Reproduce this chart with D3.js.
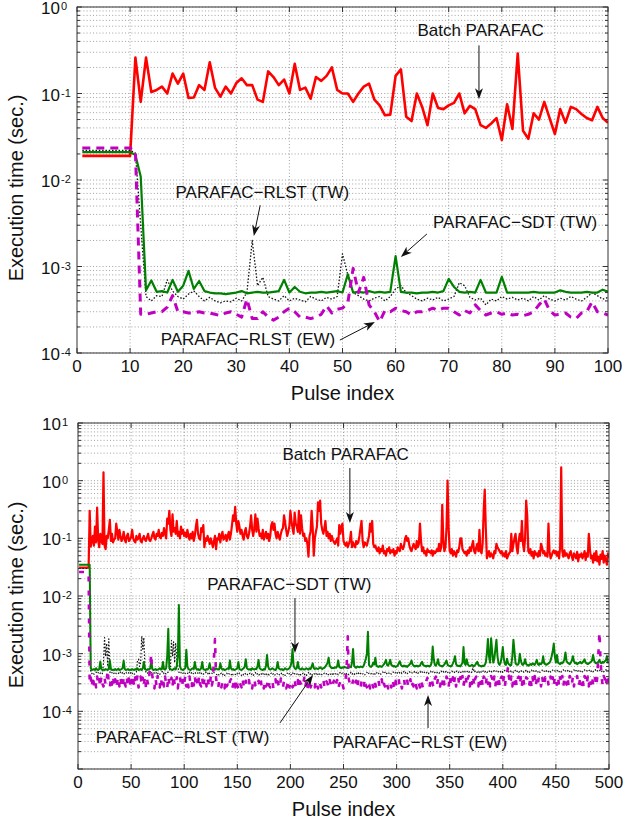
<!DOCTYPE html>
<html>
<head>
<meta charset="utf-8">
<script src="https://cdn.jsdelivr.net/npm/d3@7"></script>
<style>
  body { margin: 0; background: #fff; }
  text { font-family: "Liberation Sans", Arial, sans-serif; fill: #111; }
</style>
</head>
<body>
<svg id="fig" width="625" height="824"></svg>
<script>
// ---- data: pulse index starts at 1 ----
// top panel, 100 pulses, seconds
const topBatch = [
  0.019,0.019,0.019,0.019,0.019,0.019,0.019,0.019,0.019,0.019,
  0.26,0.080,0.26,0.104,0.11,0.12,0.10,0.17,0.13,0.17,
  0.089,0.09,0.125,0.11,0.23,0.116,0.092,0.12,0.10,0.132,
  0.15,0.125,0.125,0.085,0.08,0.18,0.155,0.125,0.145,0.10,
  0.22,0.11,0.117,0.087,0.155,0.14,0.16,0.20,0.11,0.10,
  0.10,0.08,0.10,0.12,0.13,0.085,0.073,0.056,0.057,0.16,
  0.19,0.054,0.048,0.10,0.07,0.043,0.10,0.068,0.066,0.073,
  0.078,0.10,0.059,0.072,0.066,0.043,0.040,0.045,0.052,0.029,
  0.075,0.039,0.29,0.037,0.030,0.059,0.050,0.08,0.052,0.034,
  0.066,0.046,0.07,0.066,0.058,0.052,0.049,0.07,0.052,0.046
];
const topSdtTw = [
  0.021,0.021,0.021,0.021,0.021,0.021,0.021,0.021,0.021,0.021,
  0.0195,0.011,5.3e-4,6.9e-4,5.1e-4,5.2e-4,5.0e-4,7.0e-4,5.1e-4,6.0e-4,
  8.9e-4,5.5e-4,6.8e-4,5.2e-4,5.0e-4,4.9e-4,4.9e-4,4.8e-4,4.9e-4,5.0e-4,
  5.2e-4,4.9e-4,5.0e-4,5.1e-4,5.0e-4,5.0e-4,5.1e-4,5.2e-4,7.0e-4,5.0e-4,
  5.8e-4,5.1e-4,4.9e-4,5.0e-4,5.0e-4,5.1e-4,5.0e-4,5.1e-4,5.2e-4,5.0e-4,
  8.1e-4,5.0e-4,5.1e-4,5.0e-4,5.2e-4,5.0e-4,5.1e-4,5.0e-4,5.1e-4,1.32e-3,
  5.1e-4,5.0e-4,5.0e-4,4.9e-4,5.0e-4,5.0e-4,5.1e-4,5.0e-4,5.2e-4,7.2e-4,
  5.8e-4,5.1e-4,5.0e-4,5.1e-4,5.0e-4,7.0e-4,5.0e-4,5.0e-4,5.0e-4,7.6e-4,
  5.0e-4,5.0e-4,5.0e-4,5.0e-4,5.0e-4,5.1e-4,5.0e-4,5.0e-4,5.0e-4,5.0e-4,
  5.3e-4,5.1e-4,5.0e-4,5.0e-4,5.0e-4,5.1e-4,5.0e-4,5.0e-4,5.4e-4,5.1e-4
];
const topRlstTw = [
  0.022,0.022,0.022,0.022,0.022,0.022,0.022,0.022,0.022,0.022,
  0.0205,0.003,4.5e-4,4.0e-4,4.6e-4,4.5e-4,7.0e-4,5.2e-4,4.5e-4,4.2e-4,
  4.8e-4,5.2e-4,4.5e-4,4.0e-4,4.4e-4,4.0e-4,3.8e-4,4.0e-4,3.9e-4,4.3e-4,
  4.0e-4,5.0e-4,2.0e-3,6.0e-4,7.5e-4,4.5e-4,4.2e-4,4.0e-4,4.6e-4,4.0e-4,
  4.3e-4,4.1e-4,3.9e-4,4.5e-4,4.2e-4,4.0e-4,4.4e-4,4.2e-4,4.5e-4,1.4e-3,
  8.0e-4,5.0e-4,4.6e-4,4.2e-4,4.0e-4,4.3e-4,4.5e-4,4.0e-4,4.5e-4,5.5e-4,
  6.0e-4,5.0e-4,4.6e-4,4.2e-4,4.0e-4,4.3e-4,4.1e-4,4.4e-4,4.0e-4,4.2e-4,
  4.5e-4,6.5e-4,6.0e-4,4.4e-4,4.1e-4,4.3e-4,3.6e-4,4.2e-4,4.0e-4,4.5e-4,
  4.2e-4,4.4e-4,4.1e-4,4.3e-4,4.0e-4,4.5e-4,4.1e-4,4.6e-4,4.2e-4,4.0e-4,
  4.3e-4,4.1e-4,4.5e-4,4.2e-4,4.0e-4,4.4e-4,5.0e-4,4.6e-4,4.2e-4,4.4e-4
];
const topRlstEw = [
  0.0235,0.0235,0.0235,0.0235,0.0235,0.0235,0.0235,0.0235,0.0235,0.0235,
  0.021,2.8e-4,2.8e-4,2.9e-4,3.0e-4,3.0e-4,3.4e-4,4.6e-4,3.0e-4,3.0e-4,
  2.9e-4,2.9e-4,3.0e-4,2.9e-4,2.9e-4,2.8e-4,2.7e-4,2.9e-4,3.0e-4,2.8e-4,
  2.6e-4,4.2e-4,2.5e-4,2.5e-4,3.0e-4,2.6e-4,2.4e-4,2.6e-4,3.0e-4,3.3e-4,
  3.0e-4,2.6e-4,2.6e-4,2.5e-4,2.6e-4,2.8e-4,3.5e-4,2.9e-4,3.2e-4,3.3e-4,
  3.8e-4,9.5e-4,5.0e-4,7.5e-4,3.6e-4,3.0e-4,2.3e-4,3.1e-4,3.0e-4,3.3e-4,
  3.1e-4,3.0e-4,2.75e-4,3.0e-4,3.0e-4,3.1e-4,3.3e-4,3.1e-4,3.3e-4,3.3e-4,
  3.0e-4,2.75e-4,3.1e-4,2.9e-4,3.6e-4,3.1e-4,2.75e-4,2.9e-4,3.0e-4,2.8e-4,
  2.9e-4,2.75e-4,2.8e-4,2.7e-4,2.8e-4,3.0e-4,3.6e-4,4.2e-4,3.1e-4,2.75e-4,
  2.8e-4,2.9e-4,2.6e-4,2.5e-4,2.9e-4,3.0e-4,3.9e-4,3.0e-4,2.9e-4,2.75e-4
];

// bottom panel, 500 pulses; batch in ms, the others in microseconds
const longBatchMs = [
  31,31,31,31,31,31,31,31,31,31,300,72,90,110,75,160,85,340,95,70,
  120,90,80,1400,75,65,110,100,140,210,90,120,85,95,100,180,130,95,140,110,
  90,100,130,95,85,110,120,90,95,105,140,100,90,85,110,95,100,120,90,85,
  100,110,95,90,105,120,95,90,100,115,130,100,95,120,110,140,105,100,125,110,
  150,120,100,220,180,300,140,110,260,130,150,120,200,110,130,100,160,120,140,110,
  125,105,140,110,95,120,100,130,90,110,160,210,120,100,95,150,130,170,70,100,
  90,110,95,80,100,85,70,90,110,65,100,95,120,85,110,130,95,100,115,90,
  110,130,95,120,170,250,200,350,180,130,200,160,120,140,110,95,130,150,110,100,
  120,160,250,140,110,150,260,130,220,150,110,120,100,140,95,110,130,100,120,90,
  110,170,190,140,180,120,100,130,110,95,120,140,150,250,190,140,110,130,160,300,
  200,150,120,280,180,160,130,300,120,250,150,110,120,90,100,80,48,110,130,300,
  150,50,100,130,160,420,300,450,180,140,120,150,200,110,130,100,120,90,110,95,
  85,80,90,100,75,170,120,160,180,90,80,75,85,70,80,90,130,70,85,75,
  70,90,80,85,110,150,200,90,70,85,80,75,90,110,180,130,200,80,70,75,
  65,60,70,55,65,60,75,55,60,50,65,60,70,55,62,58,65,50,60,55,
  70,65,60,80,70,65,75,100,110,90,100,75,65,60,70,80,70,65,90,70,
  80,180,90,60,70,55,60,50,65,58,60,55,62,50,60,55,58,65,60,80,
  60,70,380,90,60,70,150,1000,150,60,55,65,50,60,55,48,62,58,70,100,
  100,65,60,55,58,50,62,55,70,60,75,90,60,55,70,80,60,140,60,55,
  80,300,700,150,45,52,60,48,55,50,45,60,55,80,70,65,60,55,60,50,
  55,48,60,45,50,55,58,120,60,80,100,120,70,55,90,120,90,200,80,60,
  100,450,250,60,55,65,50,58,45,60,52,55,48,60,50,80,70,55,60,50,
  55,48,180,60,45,50,58,62,55,60,50,58,45,70,1700,60,48,62,50,55,
  50,45,55,60,48,42,55,50,45,58,40,52,48,55,45,50,60,42,55,48,
  120,65,45,50,38,55,42,60,40,48,35,52,44,60,38,50,42,35,55,45
];
const longSdtTwUs = [
  35000,35000,35000,35000,35000,35000,35000,35000,35000,35000,35000,560,520,530,540,520,560,530,520,540,
  730,540,520,530,520,540,530,520,560,760,540,520,530,520,540,520,530,550,520,530,
  540,560,760,540,520,530,540,520,530,520,540,530,520,540,530,560,520,530,540,520,
  560,720,540,530,520,540,530,560,760,540,520,530,540,520,530,540,560,530,540,720,
  540,530,560,900,2700,560,540,530,520,540,560,530,620,900,7000,600,540,530,520,540,
  560,1170,600,540,530,520,540,560,540,720,560,530,540,520,530,560,720,540,530,520,
  540,530,560,680,540,530,520,540,530,560,540,530,540,680,560,530,540,520,530,540,
  560,540,760,560,530,540,520,530,540,560,720,540,530,520,540,560,600,800,560,540,
  530,540,520,560,540,530,550,540,600,780,560,540,530,520,540,530,620,950,600,540,
  530,540,560,540,530,520,560,720,560,540,530,540,520,530,560,540,530,540,560,600,
  700,1200,620,560,540,560,720,560,540,530,560,540,530,540,560,540,530,560,540,600,
  680,560,540,560,550,540,560,580,560,540,560,570,600,640,700,850,620,580,560,570,
  560,580,570,600,760,590,570,560,580,570,590,580,570,560,580,600,580,700,1200,620,
  580,570,600,590,580,600,590,580,620,700,820,1000,2400,640,600,590,620,700,650,850,
  620,600,590,610,600,590,620,650,700,780,640,620,680,780,640,620,600,610,590,600,
  620,680,740,640,610,600,620,600,610,590,620,640,680,760,650,620,600,610,620,600,
  610,620,680,720,640,620,610,600,620,610,600,620,700,1330,800,640,620,680,800,640,
  620,610,600,620,650,700,760,640,620,610,600,620,680,760,900,660,620,610,620,600,
  640,700,1300,680,640,800,660,620,610,620,640,620,610,640,680,720,640,620,610,600,
  620,610,640,700,1000,1800,900,700,1850,1100,700,800,1200,1750,900,680,640,700,900,1300,
  800,660,640,820,680,650,620,640,900,1750,1100,680,650,640,680,1000,760,660,640,680,
  800,660,640,620,640,660,640,680,660,640,700,780,660,640,680,660,700,900,680,660,
  640,660,680,700,760,900,1100,1500,900,700,950,700,680,660,700,680,720,800,1050,740,
  700,680,660,700,760,900,740,680,700,660,680,700,720,680,700,740,800,700,680,660,
  680,700,720,760,950,760,700,680,700,720,780,700,680,720,700,740,760,900,700,720
];
const longRlstTwUs = [
  30000,30000,30000,30000,30000,30000,30000,30000,30000,30000,30000,480,450,470,440,460,480,450,470,440,
  460,480,450,700,1900,900,1500,600,1800,480,450,470,440,460,480,450,470,460,440,480,
  450,470,440,460,480,450,470,460,440,480,450,470,440,460,480,750,800,600,700,2000,
  1200,1900,600,480,450,470,440,460,480,450,470,460,440,480,450,470,440,460,480,500,
  450,470,440,460,480,500,600,1700,900,1600,700,1500,800,600,480,450,470,440,460,480,
  450,470,460,440,480,450,470,440,460,480,450,470,460,440,480,450,470,440,460,480,
  460,440,480,450,470,460,440,470,450,440,430,450,420,440,460,430,450,420,440,460,
  430,450,440,420,460,430,450,440,420,450,430,460,440,420,450,430,460,440,420,450,
  440,460,430,450,420,440,470,430,450,420,440,460,430,455,420,440,465,430,450,425,
  445,460,430,450,420,440,460,435,450,420,440,465,430,450,420,445,460,430,450,420,
  440,470,430,450,425,440,460,430,455,420,440,460,430,450,420,440,470,430,450,420,
  445,460,430,455,420,440,465,430,450,425,440,460,435,450,420,440,460,430,455,420,
  450,470,440,460,430,455,470,440,460,435,450,470,445,460,430,450,475,440,460,435,
  455,470,440,465,430,450,470,445,460,430,455,475,440,460,435,450,470,440,465,430,
  460,480,450,470,440,460,480,450,475,440,460,480,455,470,440,465,480,450,470,445,
  470,490,460,480,450,470,495,460,480,450,470,490,465,480,450,470,490,460,485,455,
  475,495,460,485,455,470,490,465,480,450,475,495,460,485,455,470,490,465,480,455,
  480,500,470,490,460,480,500,470,490,460,480,500,475,490,460,485,500,470,490,465,
  485,505,470,495,465,480,505,475,490,465,485,600,475,495,465,480,505,470,495,465,
  490,510,480,500,470,490,510,480,500,470,490,510,485,500,470,490,510,480,505,475,
  495,515,480,505,475,490,515,485,500,470,495,515,480,505,475,490,515,485,500,470,
  495,515,480,505,475,495,520,485,505,475,495,515,480,505,475,495,520,485,500,475,
  500,520,485,510,480,500,520,490,505,480,500,520,485,510,480,500,525,490,505,480,
  505,525,490,510,480,500,525,490,510,480,505,525,490,510,485,505,525,495,510,485,
  505,525,490,515,485,505,530,495,510,485,505,525,490,515,485,505,530,495,510,490
];
const longRlstEwUs = [
  26000,26000,26000,26000,26000,26000,26000,26000,26000,26000,300,380,260,420,280,350,260,400,290,360,
  260,410,300,270,390,280,350,530,300,260,380,290,420,270,360,250,330,400,270,380,
  290,250,410,300,270,380,260,400,290,430,270,350,260,390,300,420,260,330,400,280,
  380,270,410,260,360,290,400,600,1000,420,280,250,380,270,410,300,260,390,280,360,
  270,400,290,250,410,300,270,380,260,420,290,270,390,250,360,410,280,260,380,300,
  410,270,360,260,400,290,250,380,280,410,270,350,260,420,290,270,380,250,370,400,
  270,380,300,260,400,280,350,800,1800,380,270,250,350,290,260,330,280,250,360,270,
  290,250,330,360,250,280,340,260,370,280,250,330,290,260,360,280,250,340,270,300,
  350,260,290,250,330,370,280,260,250,340,280,360,260,300,250,340,270,290,370,280,
  260,300,340,250,290,360,260,330,280,250,370,290,260,340,300,250,280,350,260,300,
  340,260,290,370,260,280,350,250,330,290,260,300,380,260,340,250,290,350,260,300,
  330,280,260,350,290,250,340,300,260,290,360,270,250,330,300,260,350,290,250,310,
  340,260,300,350,250,290,330,270,300,250,300,350,600,2000,360,300,260,290,340,260,
  290,340,250,350,300,260,330,290,250,370,290,260,340,300,250,330,300,260,350,290,
  250,300,340,260,290,360,250,300,270,340,290,250,330,300,260,360,300,250,340,270,
  280,360,260,300,250,340,370,260,300,340,260,290,360,250,300,270,340,290,250,330,
  300,260,350,290,250,270,300,340,380,280,260,360,390,290,260,370,400,280,380,300,
  270,380,300,410,290,270,400,360,260,420,300,270,390,290,410,270,370,400,280,390,
  300,410,270,390,430,280,370,410,270,390,300,420,270,370,400,290,270,390,300,410,
  270,400,370,280,420,300,390,270,410,370,290,400,270,390,300,410,270,370,400,290,
  390,270,410,450,600,370,290,400,270,390,300,410,270,370,400,290,390,270,410,300,
  270,390,370,410,290,400,270,390,300,410,270,370,290,400,390,270,410,300,270,390,
  370,410,290,270,400,300,390,270,410,370,290,400,270,390,300,410,270,370,400,290,
  390,270,410,300,290,400,270,390,370,410,270,300,400,290,390,270,410,370,290,400,
  270,390,300,410,290,400,370,270,400,1000,2400,800,390,290,410,370,270,390,300,400
];

// axis ticks
const topXTicks = [0, 10, 20, 30, 40, 50, 60, 70, 80, 90, 100];
const longXTicks = [0, 50, 100, 150, 200, 250, 300, 350, 400, 450, 500];
const topExponents = [-4, -3, -2, -1, 0];
const longExponents = [-4, -3, -2, -1, 0, 1];

// annotations in data coordinates: label point, arrow tail, arrow tip
const topNotes = [
  {text: 'Batch PARAFAC', at: [76, 0.46], from: [75.7, 0.36], to: [75.7, 0.086]},
  {text: 'PARAFAC\u2212RLST (TW)', at: [34.9, 6.2e-3], from: [34.5, 5.1e-3], to: [33.3, 2.25e-3]},
  {text: 'PARAFAC\u2212SDT (TW)', at: [82.5, 2.8e-3], from: [65.9, 2.38e-3], to: [61.0, 1.29e-3]},
  {text: 'PARAFAC\u2212RLST (EW)', at: [32.2, 1.24e-4], from: [49.5, 1.41e-4], to: [56.1, 2.28e-4]}
];
const longNotes = [
  {text: 'Batch PARAFAC', at: [252, 2.28], from: [256, 1.66], to: [256, 0.184]},
  {text: 'PARAFAC\u2212SDT (TW)', at: [199, 0.0127], from: [204.3, 9.2e-3], to: [204.3, 1.03e-3]},
  {text: 'PARAFAC\u2212RLST (TW)', at: [98.4, 2.83e-5], from: [190.2, 6.3e-5], to: [221.3, 4.27e-4]},
  {text: 'PARAFAC\u2212RLST (EW)', at: [322, 2.31e-5], from: [329.6, 5.14e-5], to: [329.6, 1.92e-4]}
];

const svg = d3.select('#fig');

function drawArrow(g, x1, y1, x2, y2) {
  const ang = Math.atan2(y2 - y1, x2 - x1);
  const len = 11, half = 4, notch = 3;
  const bx = x2 - len * Math.cos(ang), by = y2 - len * Math.sin(ang);
  const nx = x2 - (len - notch) * Math.cos(ang), ny = y2 - (len - notch) * Math.sin(ang);
  const px = -Math.sin(ang) * half, py = Math.cos(ang) * half;
  g.append('line').attr('x1', x1).attr('y1', y1).attr('x2', nx).attr('y2', ny)
    .attr('stroke', '#111').attr('stroke-width', 1);
  g.append('path')
    .attr('d', `M${x2},${y2}L${bx + px},${by + py}L${nx},${ny}L${bx - px},${by - py}Z`)
    .attr('fill', '#111');
}

function drawPanel(p) {
  const x = d3.scaleLinear().domain(p.xDomain).range(p.xRange);
  const y = d3.scaleLog().domain(p.yDomain).range(p.yRange);
  const [x0, x1] = p.xRange, [yb, yt] = p.yRange;
  const g = svg.append('g');
  const lo = Math.round(Math.log10(p.yDomain[0])), hi = Math.round(Math.log10(p.yDomain[1]));

  const majors = d3.range(lo, hi + 1).map(e => Math.pow(10, e));
  const minors = [];
  for (let e = lo; e < hi; e++) for (let k = 2; k < 10; k++) minors.push(k * Math.pow(10, e));

  // dotted grid
  const grid = g.append('g').attr('stroke', '#8a8a8a').attr('stroke-width', 0.8)
    .attr('stroke-dasharray', '1,2.2');
  grid.selectAll('.hy').data(majors.concat(minors)).join('line')
    .attr('x1', x0).attr('x2', x1).attr('y1', d => y(d)).attr('y2', d => y(d));
  grid.selectAll('.vx').data(p.xTicks.slice(1, -1)).join('line')
    .attr('y1', yb).attr('y2', yt).attr('x1', d => x(d)).attr('x2', d => x(d));

  // series
  const clipId = 'clip' + p.id;
  g.append('clipPath').attr('id', clipId).append('rect')
    .attr('x', x0).attr('y', yt).attr('width', x1 - x0).attr('height', yb - yt);
  const plot = g.append('g').attr('clip-path', `url(#${clipId})`);
  p.series.forEach(s => {
    const line = d3.line().x((d, i) => x(i + 1)).y(d => y(d * s.unit));
    plot.append('path').datum(s.values).attr('d', line)
      .attr('fill', 'none').attr('stroke', s.color).attr('stroke-width', s.width)
      .attr('stroke-dasharray', s.dash || null)
      .attr('stroke-linejoin', 'round');
  });

  // box and ticks
  g.append('rect').attr('x', x0).attr('y', yt).attr('width', x1 - x0).attr('height', yb - yt)
    .attr('fill', 'none').attr('stroke', '#333').attr('stroke-width', 1);
  const ticks = g.append('g').attr('stroke', '#333').attr('stroke-width', 1);
  p.xTicks.forEach(t => {
    ticks.append('line').attr('x1', x(t)).attr('x2', x(t)).attr('y1', yb).attr('y2', yb - 5);
    ticks.append('line').attr('x1', x(t)).attr('x2', x(t)).attr('y1', yt).attr('y2', yt + 5);
  });
  majors.forEach(t => {
    ticks.append('line').attr('x1', x0).attr('x2', x0 + 5).attr('y1', y(t)).attr('y2', y(t));
    ticks.append('line').attr('x1', x1).attr('x2', x1 - 5).attr('y1', y(t)).attr('y2', y(t));
  });
  minors.forEach(t => {
    ticks.append('line').attr('x1', x0).attr('x2', x0 + 3).attr('y1', y(t)).attr('y2', y(t));
    ticks.append('line').attr('x1', x1).attr('x2', x1 - 3).attr('y1', y(t)).attr('y2', y(t));
  });

  // tick labels
  g.selectAll('.xl').data(p.xTicks).join('text')
    .attr('x', d => x(d)).attr('y', yb + 19).attr('text-anchor', 'middle')
    .attr('font-size', 17).text(d => d);
  p.exponents.forEach(e => {
    const ty = y(Math.pow(10, e));
    g.append('text').attr('x', x0 - 17).attr('y', ty + 7).attr('text-anchor', 'end')
      .attr('font-size', 17).text('10');
    g.append('text').attr('x', x0 - 16).attr('y', ty + 3)
      .attr('font-size', 11).text(e);
  });

  // axis titles
  g.append('text').attr('x', (x0 + x1) / 2).attr('y', yb + 47).attr('text-anchor', 'middle')
    .attr('font-size', 20).text('Pulse index');
  g.append('text').attr('transform', `translate(23,${p.yTitleAt}) rotate(-90)`)
    .attr('text-anchor', 'middle').attr('font-size', 20).text('Execution time (sec.)');

  // annotations
  p.notes.forEach(n => {
    g.append('text').attr('x', x(n.at[0])).attr('y', y(n.at[1])).attr('text-anchor', 'middle')
      .attr('font-size', 17).text(n.text);
    drawArrow(g, x(n.from[0]), y(n.from[1]), x(n.to[0]), y(n.to[1]));
  });
}

const red = '#ff0000', green = '#008000', magenta = '#c000c0', black = '#111';

drawPanel({
  id: 'top', xDomain: [0, 100], xRange: [77, 608], yDomain: [1e-4, 1], yRange: [353, 7],
  xTicks: topXTicks, exponents: topExponents, yTitleAt: 188, notes: topNotes,
  series: [
    {values: topBatch, unit: 1, color: red, width: 2.6},
    {values: topRlstTw, unit: 1, color: black, width: 1.3, dash: '1.5,1.8'},
    {values: topSdtTw, unit: 1, color: green, width: 2.2},
    {values: topRlstEw, unit: 1, color: magenta, width: 3, dash: '8,6'}
  ]
});

drawPanel({
  id: 'long', xDomain: [0, 500], xRange: [78, 609], yDomain: [1e-5, 10], yRange: [769, 423],
  xTicks: longXTicks, exponents: longExponents, yTitleAt: 595, notes: longNotes,
  series: [
    {values: longBatchMs, unit: 1e-3, color: red, width: 2.2},
    {values: longRlstTwUs, unit: 1e-6, color: black, width: 1.2, dash: '1.5,1.8'},
    {values: longSdtTwUs, unit: 1e-6, color: green, width: 2},
    {values: longRlstEwUs, unit: 1e-6, color: magenta, width: 2.6, dash: '5,9'}
  ]
});
</script>
</body>
</html>
